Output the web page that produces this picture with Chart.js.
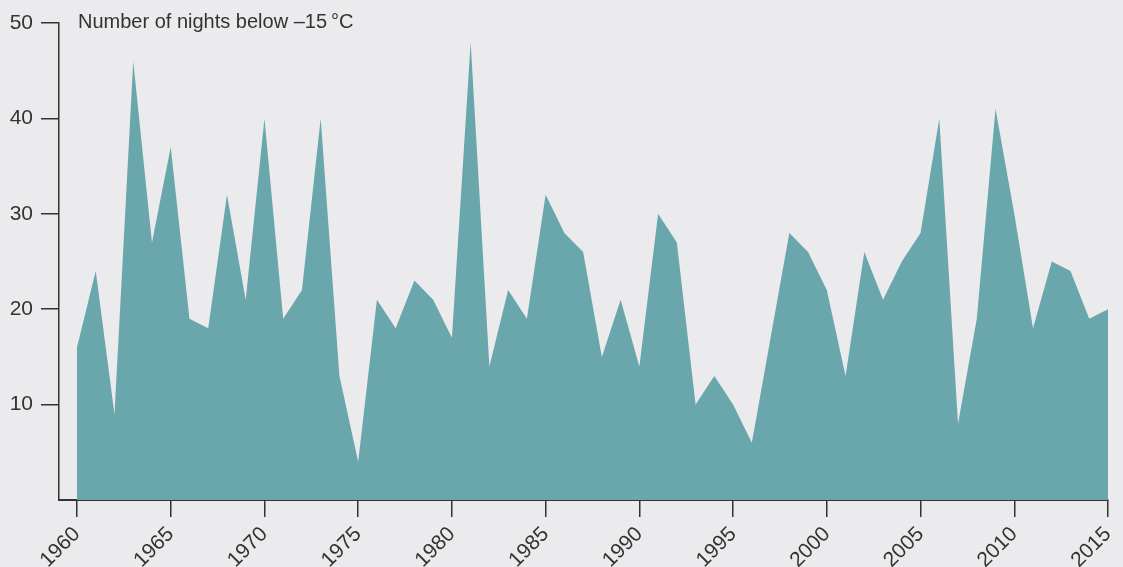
<!DOCTYPE html>
<html>
<head>
<meta charset="utf-8">
<script src="https://cdn.jsdelivr.net/npm/chart.js@4"></script>
<style>
  html, body { margin: 0; padding: 0; background: #ebebed; }
  #wrap { width: 1123px; height: 567px; }
</style>
</head>
<body>
<div id="wrap"><canvas id="chart"></canvas></div>
<script>
const years = [1960,1961,1962,1963,1964,1965,1966,1967,1968,1969,1970,1971,1972,1973,1974,1975,1976,1977,1978,1979,
  1980,1981,1982,1983,1984,1985,1986,1987,1988,1989,1990,1991,1992,1993,1994,1995,1996,1997,1998,1999,
  2000,2001,2002,2003,2004,2005,2006,2007,2008,2009,2010,2011,2012,2013,2014,2015];
const nights = [16,24,9,46,27,37,19,18,32,21,40,19,22,40,13,4,21,18,23,21,
  17,48,14,22,19,32,28,26,15,21,14,30,27,10,13,10,6,17,28,26,
  22,13,26,21,25,28,40,8,19,41,30,18,25,24,19,20];
const xTicks = [1960,1965,1970,1975,1980,1985,1990,1995,2000,2005,2010,2015];
const yTicks = [10,20,30,40,50];
const titleText = 'Number of nights below \u201315\u2009\u00B0C';

const ink = '#333333';
const font = 'Liberation Sans, Arial, sans-serif';

// header label in top-left of plot
const titlePlugin = {
    id: 'titleText',
    afterDraw(chart) {
        const c = chart.ctx;
        c.save();
        c.fillStyle = ink;
        c.font = '20px ' + font;
        c.textBaseline = 'alphabetic';
        c.fillText(titleText, chart.chartArea.left + 19, chart.chartArea.top + 5);
        c.restore();
    }
};

new Chart(document.getElementById('chart'), {
    type: 'line',
    data: {
        datasets: [{
            data: years.map((y, i) => ({ x: y, y: nights[i] })),
            backgroundColor: '#6aa7ad',
            borderWidth: 0,
            pointRadius: 0,
            fill: 'origin',
            tension: 0
        }]
    },
    options: {
        responsive: true, maintainAspectRatio: false, animation: false,
        layout: { padding: { top: 23, right: 15, left: 0, bottom: 0 } },
        plugins: { legend: { display: false }, tooltip: { enabled: false } },
        scales: {
            x: {
                type: 'linear', min: 1959.04, max: 2015,
                afterBuildTicks: s => { s.ticks = xTicks.map(v => ({ value: v })); },
                afterFit: s => { s.height = 67; s.paddingRight = 0; s.paddingLeft = 0; },
                grid: { drawOnChartArea: false, drawTicks: true, tickLength: 17, color: ink, lineWidth: 1.5 },
                border: { display: true, color: ink, width: 2 },
                ticks: {
                    autoSkip: false, maxRotation: 45, minRotation: 45,
                    color: ink, font: { family: font, size: 21 }, padding: 5,
                    callback: v => String(v)
                }
            },
            y: {
                min: 0, max: 50,
                afterBuildTicks: s => { s.ticks = yTicks.map(v => ({ value: v })); },
                afterFit: s => { s.width = 59; s.paddingTop = 0; s.paddingBottom = 0; },
                grid: { drawOnChartArea: false, drawTicks: true, tickLength: 18, color: ink, lineWidth: 1.5 },
                border: { display: true, color: ink, width: 1.5 },
                ticks: { color: ink, font: { family: font, size: 21 }, padding: 8 }
            }
        }
    },
    plugins: [titlePlugin]
});
</script>
</body>
</html>
